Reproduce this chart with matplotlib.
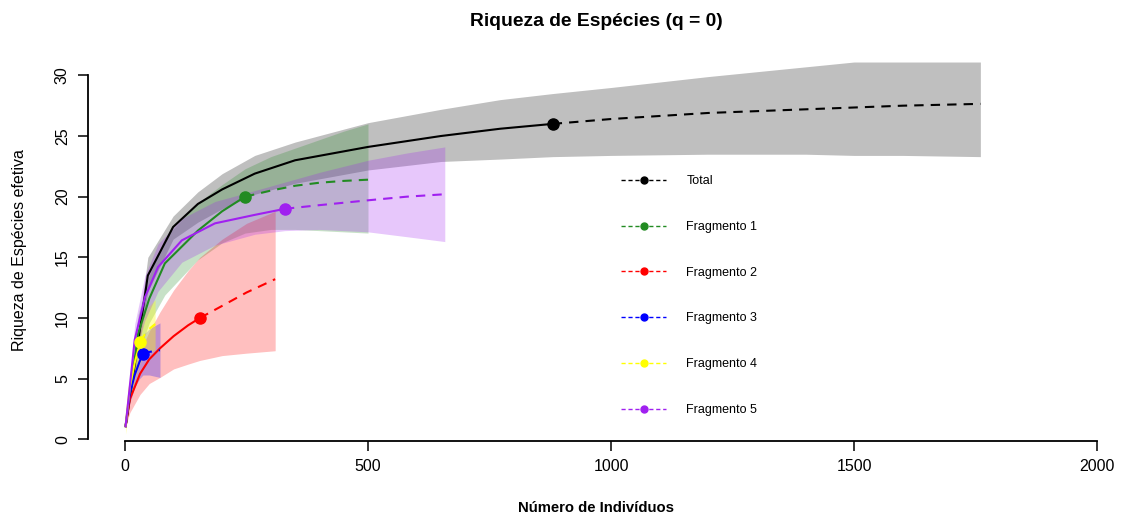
import numpy as np
import matplotlib
matplotlib.use("Agg")
import matplotlib.pyplot as plt
from matplotlib.lines import Line2D

plt.rcParams['font.family'] = ['Liberation Sans', 'DejaVu Sans']

# ---- data ----
series_names = ["Total", "Fragmento 1", "Fragmento 2", "Fragmento 3", "Fragmento 4", "Fragmento 5"]
series_colors = ["black", "#228B22", "red", "blue", "yellow", "#A020F0"]

total_n = [1, 47, 99, 150, 200, 267, 350, 500, 650, 772, 880, 1000, 1200, 1400, 1500, 1600, 1760]
total_s = [1.0, 13.5, 17.5, 19.4, 20.6, 21.9, 23.0, 24.1, 25.0, 25.6, 26.0, 26.4, 26.9, 27.2, 27.35, 27.5, 27.65]
total_lo = [1.0, 12.2, 16.5, 17.9, 19.0, 20.2, 21.1, 22.2, 22.9, 23.1, 23.3, 23.4, 23.5, 23.5, 23.4, 23.4, 23.3]
total_hi = [1.0, 15.0, 18.4, 20.4, 21.9, 23.4, 24.5, 26.1, 27.2, 28.0, 28.5, 29.0, 29.9, 30.7, 31.1, 31.1, 31.1]
total_obs = (880, 26.0)

frag1_n = [1, 27, 50, 82, 150, 200, 247, 300, 350, 400, 450, 500]
frag1_s = [1.0, 8.7, 11.6, 14.5, 17.2, 18.8, 20.0, 20.5, 20.9, 21.15, 21.3, 21.4]
frag1_lo = [1.0, 7.0, 9.6, 11.9, 14.8, 16.2, 17.0, 17.3, 17.3, 17.2, 17.1, 17.0]
frag1_hi = [1.0, 10.3, 13.5, 16.6, 19.5, 21.0, 22.3, 23.3, 24.0, 24.7, 25.4, 26.0]
frag1_obs = (247, 20.0)

frag2_n = [1, 10, 31, 50, 72, 100, 130, 154, 200, 250, 309]
frag2_s = [1.0, 3.3, 5.4, 6.6, 7.5, 8.5, 9.4, 10.0, 11.0, 12.1, 13.2]
frag2_lo = [1.0, 2.2, 3.7, 4.6, 5.1, 5.8, 6.2, 6.5, 6.9, 7.1, 7.3]
frag2_hi = [1.0, 4.5, 7.2, 8.9, 10.5, 12.3, 13.9, 15.0, 16.5, 17.8, 18.8]
frag2_obs = (154, 10.0)

frag3_n = [1, 10, 20, 30, 37, 50, 72]
frag3_s = [1.0, 3.8, 5.3, 6.4, 7.0, 7.2, 7.35]
frag3_lo = [1.0, 3.0, 4.3, 5.0, 5.3, 5.3, 5.1]
frag3_hi = [1.0, 4.6, 6.5, 7.9, 8.6, 9.1, 9.6]
frag3_obs = (37, 7.0)

frag4_n = [1, 10, 20, 31, 40, 50, 62]
frag4_s = [1.0, 4.3, 6.3, 8.0, 8.6, 9.1, 9.5]
frag4_lo = [0.4, 3.4, 4.9, 6.3, 6.8, 7.1, 7.4]
frag4_hi = [1.3, 5.2, 7.8, 9.6, 10.4, 11.0, 11.5]
frag4_obs = (31, 8.0)

frag5_n = [1, 20, 41, 68, 117, 185, 267, 329, 400, 500, 580, 658]
frag5_s = [1.0, 8.2, 11.7, 14.2, 16.4, 17.8, 18.5, 19.0, 19.3, 19.7, 20.0, 20.2]
frag5_lo = [1.0, 6.8, 9.8, 12.2, 14.6, 16.0, 16.9, 17.2, 17.3, 17.1, 16.7, 16.3]
frag5_hi = [1.0, 9.5, 13.5, 16.1, 18.2, 19.6, 20.5, 21.2, 22.0, 23.0, 23.6, 24.1]
frag5_obs = (329, 19.0)

x_ticks = [0, 500, 1000, 1500, 2000]
y_ticks = [0, 5, 10, 15, 20, 25, 30]

series = [
    (total_n, total_s, total_lo, total_hi, total_obs),
    (frag1_n, frag1_s, frag1_lo, frag1_hi, frag1_obs),
    (frag2_n, frag2_s, frag2_lo, frag2_hi, frag2_obs),
    (frag3_n, frag3_s, frag3_lo, frag3_hi, frag3_obs),
    (frag4_n, frag4_s, frag4_lo, frag4_hi, frag4_obs),
    (frag5_n, frag5_s, frag5_lo, frag5_hi, frag5_obs),
]

W, H = 1124, 517
fig = plt.figure(figsize=(W / 100, H / 100), dpi=100)
ax = fig.add_axes([88 / W, (H - 441) / H, (1110 - 88) / W, (441 - 50) / H])
ax.set_xlim(-76.1, 2026.7)
ax.set_ylim(-0.14, 32.09)

band_alpha = [0.25, 0.25, 0.25, 0.25, 0.35, 0.25]
for (n, s, lo, hi, obs), col, a in zip(series, series_colors, band_alpha):
    ax.fill_between(n, lo, hi, color=col, alpha=a, linewidth=0, zorder=1)

for (n, s, lo, hi, obs), col in zip(series, series_colors):
    n = np.asarray(n); s = np.asarray(s)
    r = n <= obs[0]
    e = n >= obs[0]
    ax.plot(n[r], s[r], color=col, lw=1.5, solid_capstyle='butt', zorder=3)
    ax.plot(n[e], s[e], color=col, lw=1.5, ls=(0, (4.5, 3.4)), zorder=3)
    ax.plot([obs[0]], [obs[1]], 'o', color=col, markersize=8, zorder=4)

for sp in ['top', 'right']:
    ax.spines[sp].set_visible(False)
ax.spines['left'].set_bounds(0, 30)
ax.spines['bottom'].set_bounds(0, 2000)
for sp in ['left', 'bottom']:
    ax.spines[sp].set_linewidth(1.3)
ax.set_xticks(x_ticks)
ax.set_yticks(y_ticks)
ax.set_xticklabels([str(v) for v in x_ticks])
ax.set_yticklabels([str(v) for v in y_ticks], rotation=90, va='center')
ax.tick_params(axis='both', length=7, width=1.1, labelsize=11.5, pad=6)

ax.set_xlabel("Número de Indivíduos", fontsize=10.7, fontweight='bold')
ax.xaxis.set_label_coords((596 - 88) / (1110 - 88), (441 - 508) / (441 - 50))
ax.set_ylabel("Riqueza de Espécies efetiva", fontsize=11.5)
ax.yaxis.set_label_coords((20 - 88) / (1110 - 88), (441 - 250) / (441 - 50))
ax.xaxis.label.set_va('center')
ax.yaxis.label.set_va('center')
fig.text(596 / W, 1 - 22 / H, "Riqueza de Espécies (q = 0)", ha='center', va='center',
         fontsize=13.9, fontweight='bold')

handles = [Line2D([], [], color=c, ls=(0, (3, 2)), lw=1.0, marker='o', markersize=5)
           for c in series_colors]
leg = fig.legend(handles, series_names, loc='center left',
                 bbox_to_anchor=(615 / W, 1 - 295.5 / H), frameon=False,
                 fontsize=9, handlelength=3.6, handletextpad=1.6, labelspacing=2.7,
                 borderpad=0, markerscale=1.0)

fig.savefig("out.png", dpi=100)
